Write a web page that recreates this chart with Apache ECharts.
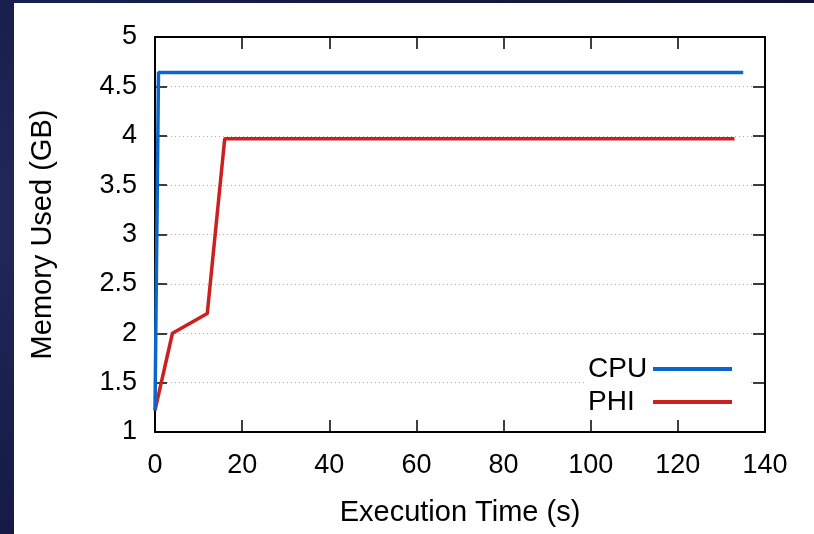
<!DOCTYPE html>
<html>
<head>
<meta charset="utf-8">
<script src="https://cdn.jsdelivr.net/npm/echarts@6/dist/echarts.min.js"></script>
<style>
  html, body { margin: 0; padding: 0; width: 814px; height: 534px; overflow: hidden;
    background: radial-gradient(circle at 5% 40%, #22285a 0%, #141a44 40%, #0f1436 100%); }
  #chart { position: absolute; left: 14px; top: 3px; width: 800px; height: 531px; background: #ffffff; }
</style>
</head>
<body>
<div id="chart"></div>
<script>
// ---- data ----
const seriesNames = ['CPU', 'PHI'];
const cpuTime = [0, 0.8, 135];
const cpuMem  = [1.22, 4.64, 4.64];
const phiTime = [0, 4, 12, 16, 133];
const phiMem  = [1.22, 2.0, 2.2, 3.97, 3.97];
const xTicks = [0, 20, 40, 60, 80, 100, 120, 140];
const yTicks = [1, 1.5, 2, 2.5, 3, 3.5, 4, 4.5, 5];

const FONT = '"Liberation Sans", Arial, Helvetica, sans-serif';
const chart = echarts.init(document.getElementById('chart'), null, { renderer: 'canvas' });

function pairs(xs, ys) { return xs.map((x, i) => [x, ys[i]]); }

const xMin = xTicks[0], xMax = xTicks[xTicks.length - 1], xInt = xTicks[1] - xTicks[0];
const yMin = yTicks[0], yMax = yTicks[yTicks.length - 1], yInt = yTicks[1] - yTicks[0];

const axisLine = { show: true, onZero: false, lineStyle: { color: '#000', width: 2 } };
const tick = { show: true, inside: true, length: 12, lineStyle: { color: '#000', width: 1.5 } };

chart.setOption({
  animation: false,
  textStyle: { fontFamily: FONT },
  grid: { left: 141, right: 49, top: 34, bottom: 102, containLabel: false },
  legend: {
    data: seriesNames,
    orient: 'vertical',
    align: 'right',
    right: 65,
    top: 348,
    padding: [4, 17, 4, 4],
    backgroundColor: '#ffffff',
    itemGap: 5,
    itemWidth: 79,
    itemHeight: 4,
    icon: 'rect',
    formatter: '{n|{name}}',
    textStyle: {
      fontFamily: FONT, fontSize: 28, color: '#000', lineHeight: 28,
      rich: { n: { fontFamily: FONT, fontSize: 28, color: '#000', lineHeight: 28, width: 60, align: 'left' } }
    }
  },
  xAxis: [
    {
      type: 'value', position: 'bottom', min: xMin, max: xMax, interval: xInt,
      name: 'Execution Time (s)', nameLocation: 'middle', nameGap: 66,
      nameTextStyle: { fontFamily: FONT, fontSize: 29, color: '#000' },
      axisLine: axisLine, axisTick: tick,
      axisLabel: { fontFamily: FONT, fontSize: 27, color: '#000', margin: 20 },
      splitLine: { show: false }
    },
    {
      type: 'value', position: 'top', min: xMin, max: xMax, interval: xInt,
      axisLine: axisLine, axisTick: tick, axisLabel: { show: false }, splitLine: { show: false }
    }
  ],
  yAxis: [
    {
      type: 'value', position: 'left', min: yMin, max: yMax, interval: yInt,
      name: 'Memory Used (GB)', nameLocation: 'middle', nameGap: 98,
      nameTextStyle: { fontFamily: FONT, fontSize: 29, color: '#000' },
      axisLine: axisLine, axisTick: tick,
      axisLabel: { fontFamily: FONT, fontSize: 27, color: '#000', margin: 18 },
      splitLine: { show: true, lineStyle: { color: '#b0b0b0', width: 1, type: [1, 3] } }
    },
    {
      type: 'value', position: 'right', min: yMin, max: yMax, interval: yInt,
      axisLine: axisLine, axisTick: tick, axisLabel: { show: false }, splitLine: { show: false }
    }
  ],
  series: [
    {
      name: seriesNames[0], type: 'line', xAxisIndex: 0, yAxisIndex: 0,
      data: pairs(cpuTime, cpuMem), showSymbol: false, symbol: 'none',
      lineStyle: { color: '#0a66cc', width: 3.5 }, itemStyle: { color: '#0a66cc' }, z: 3
    },
    {
      name: seriesNames[1], type: 'line', xAxisIndex: 0, yAxisIndex: 0,
      data: pairs(phiTime, phiMem), showSymbol: false, symbol: 'none',
      lineStyle: { color: '#cc1f1f', width: 3.5 }, itemStyle: { color: '#cc1f1f' }, z: 2
    }
  ]
});
</script>
</body>
</html>
